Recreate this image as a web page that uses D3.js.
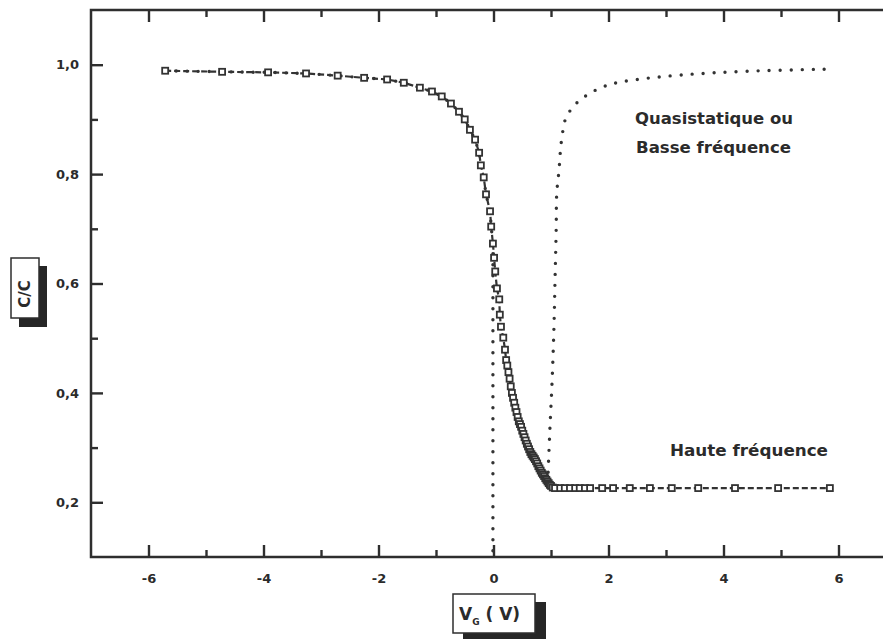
<!DOCTYPE html>
<html><head><meta charset="utf-8">
<script src="https://cdn.jsdelivr.net/npm/d3@7"></script>
<style>
body{margin:0;background:#fff;}
svg{display:block;}
text{font-family:"DejaVu Sans",sans-serif;font-weight:bold;fill:#2b2b2b;}
</style></head>
<body><svg id="c" width="883" height="639"></svg>
<script>
// ---- data ----
const xTicks = [-6,-4,-2,0,2,4,6];
const xMinorTicks = [-5,-3,-1,1,3,5];
const yTicks = [0.2,0.4,0.6,0.8,1.0];
const yMinorTicks = [0.3,0.5,0.7,0.9];
const yTickLabels = ["0,2","0,4","0,6","0,8","1,0"];

// High-frequency curve (squares, dashed)
const hfV = [-5.71,-4.72,-3.92,-3.26,-2.71,-2.25,-1.85,-1.56,-1.28,-1.07,-0.90,-0.74,-0.60,-0.50,-0.41,-0.32,-0.25,-0.22,-0.17,-0.13,-0.06,-0.04,-0.01,0.01,0.03,0.06,0.10,0.11,0.13,0.17,0.20,0.22,0.24,0.26,0.28,0.30,0.32,0.34,0.36,0.38,0.40,0.42,0.44,0.46,0.48,0.50,0.52,0.54,0.56,0.58,0.60,0.62,0.64,0.66,0.68,0.70,0.72,0.74,0.76,0.78,0.80,0.82,0.84,0.86,0.88,0.90,0.92,0.94,0.96,0.98,1.00,1.03,1.07,1.16,1.24,1.33,1.42,1.50,1.59,1.68,1.89,2.08,2.37,2.72,3.10,3.56,4.20,4.95,5.85];
const hfC = [0.989,0.987,0.986,0.984,0.980,0.976,0.973,0.967,0.958,0.951,0.942,0.929,0.914,0.900,0.881,0.863,0.839,0.816,0.794,0.763,0.732,0.704,0.673,0.647,0.622,0.591,0.571,0.543,0.521,0.501,0.479,0.460,0.450,0.438,0.426,0.412,0.400,0.391,0.382,0.373,0.365,0.356,0.348,0.343,0.338,0.331,0.325,0.319,0.313,0.307,0.302,0.297,0.292,0.288,0.285,0.282,0.279,0.275,0.271,0.266,0.262,0.258,0.254,0.251,0.248,0.244,0.241,0.238,0.235,0.232,0.230,0.227,0.226,0.226,0.226,0.226,0.226,0.226,0.226,0.226,0.226,0.226,0.226,0.226,0.226,0.226,0.226,0.226,0.226];

// Quasistatic / low-frequency curve (dotted), two branches
const lfLeftV = [-5.71,-4.72,-3.92,-3.26,-2.71,-2.25,-1.85,-1.56,-1.28,-1.07,-0.90,-0.74,-0.60,-0.50,-0.41,-0.32,-0.25,-0.17,-0.13,-0.06,-0.04,-0.01,-0.01];
const lfLeftC = [0.989,0.987,0.986,0.984,0.980,0.976,0.973,0.967,0.958,0.951,0.942,0.929,0.914,0.900,0.881,0.863,0.839,0.794,0.763,0.732,0.704,0.673,0.0];
const lfRightV = [0.95,0.98,1.02,1.05,1.07,1.09,1.10,1.14,1.17,1.21,1.26,1.37,1.50,1.68,1.85,2.06,2.43,3.24,4.41,5.85];
const lfRightC = [0.255,0.332,0.424,0.515,0.606,0.698,0.765,0.808,0.850,0.881,0.903,0.921,0.935,0.948,0.957,0.965,0.972,0.981,0.988,0.992];

// ---- layout ----
const svg = d3.select("#c");
const L = 91, R = 896, T = 10, B = 557;
const x = d3.scaleLinear().domain([-7,7]).range([L,R]);
const y = d3.scaleLinear().domain([0.1,1.1]).range([B,T]);
const ink = "#2e2e2e";

svg.append("defs").append("clipPath").attr("id","clip")
  .append("rect").attr("x",L).attr("y",T).attr("width",R-L).attr("height",B-T);

function styleAxis(g){
  g.select(".domain").remove();
  g.selectAll(".tick line").attr("stroke",ink).attr("stroke-width",2.4);
}
// bottom
svg.append("g").attr("transform",`translate(0,${B})`)
  .call(d3.axisTop(x).tickValues(xMinorTicks).tickSize(7).tickFormat(""))
  .call(styleAxis);
const xb = svg.append("g").attr("transform",`translate(0,${B})`)
  .call(d3.axisTop(x).tickValues(xTicks).tickSize(12).tickFormat(d=>d));
xb.call(styleAxis);
xb.selectAll(".tick text").attr("y",26).attr("dy",0).style("font-size","13px").style("font-family","DejaVu Sans").attr("fill","#2b2b2b")
  .text(d=> d<0 ? "-"+Math.abs(d) : d);
// top
svg.append("g").attr("transform",`translate(0,${T})`)
  .call(d3.axisBottom(x).tickValues(xMinorTicks).tickSize(7).tickFormat(""))
  .call(styleAxis);
svg.append("g").attr("transform",`translate(0,${T})`)
  .call(d3.axisBottom(x).tickValues(xTicks).tickSize(12).tickFormat(""))
  .call(styleAxis);
// left
svg.append("g").attr("transform",`translate(${L},0)`)
  .call(d3.axisRight(y).tickValues(yMinorTicks).tickSize(7).tickFormat(""))
  .call(styleAxis);
const yl = svg.append("g").attr("transform",`translate(${L},0)`)
  .call(d3.axisRight(y).tickValues(yTicks).tickSize(12).tickFormat((d,i)=>yTickLabels[i]));
yl.call(styleAxis);
yl.selectAll(".tick text").attr("x",-12).attr("text-anchor","end").style("font-size","13px").style("font-family","DejaVu Sans").attr("fill","#2b2b2b");
// right
svg.append("g").attr("transform",`translate(${R},0)`)
  .call(d3.axisLeft(y).tickValues(yMinorTicks).tickSize(7).tickFormat(""))
  .call(styleAxis);
svg.append("g").attr("transform",`translate(${R},0)`)
  .call(d3.axisLeft(y).tickValues(yTicks).tickSize(12).tickFormat(""))
  .call(styleAxis);

// frame
svg.append("rect").attr("x",L).attr("y",T).attr("width",R-L).attr("height",B-T)
  .attr("fill","none").attr("stroke",ink).attr("stroke-width",2.5);

const plot = svg.append("g").attr("clip-path","url(#clip)");
const line = d3.line().x(d=>x(d[0])).y(d=>y(d[1]));

// LF dotted
const lfL = lfLeftV.map((v,i)=>[v,lfLeftC[i]]);
const lfR = lfRightV.map((v,i)=>[v,lfRightC[i]]);
[lfL, lfR].forEach((pts,k)=>{
  plot.append("path").datum(pts)
    .attr("d", k===1 ? d3.line().x(d=>x(d[0])).y(d=>y(d[1])).curve(d3.curveCatmullRom)(pts) : line(pts))
    .attr("fill","none").attr("stroke","#333").attr("stroke-width",3.4)
    .attr("stroke-linecap","round").attr("stroke-dasharray","0,11");
});

// HF dashed line + squares
const hf = hfV.map((v,i)=>[v,hfC[i]]);
plot.append("path").datum(hf).attr("d",line)
  .attr("fill","none").attr("stroke","#333").attr("stroke-width",2.2)
  .attr("stroke-dasharray","6,3");
plot.selectAll("rect.m").data(hf).join("rect").attr("class","m")
  .attr("x",d=>x(d[0])-3).attr("y",d=>y(d[1])-3).attr("width",6).attr("height",6)
  .attr("fill","#fff").attr("stroke","#333").attr("stroke-width",1.8);

// annotations
svg.append("text").attr("x",635).attr("y",124).attr("textLength",158).attr("lengthAdjust","spacingAndGlyphs")
  .style("font-size","16px").text("Quasistatique ou");
svg.append("text").attr("x",636).attr("y",153).attr("textLength",155).attr("lengthAdjust","spacingAndGlyphs")
  .style("font-size","16px").text("Basse fréquence");
svg.append("text").attr("x",670).attr("y",456).attr("textLength",158).attr("lengthAdjust","spacingAndGlyphs")
  .style("font-size","16px").text("Haute fréquence");

// y label box
svg.append("rect").attr("x",19).attr("y",266).attr("width",28).attr("height",61).attr("fill","#262626");
svg.append("rect").attr("x",11).attr("y",258).attr("width",28).attr("height",60).attr("fill","#fff").attr("stroke",ink).attr("stroke-width",1.5);
svg.append("text").attr("transform","translate(30,294) rotate(-90)").attr("text-anchor","middle")
  .style("font-size","15px").text("C/C");

// x label box
svg.append("rect").attr("x",463).attr("y",602).attr("width",83).attr("height",40).attr("fill","#262626");
svg.append("rect").attr("x",453).attr("y",594).attr("width",82).attr("height",39).attr("fill","#fff").attr("stroke",ink).attr("stroke-width",1.5);
const xl = svg.append("text").attr("x",459).attr("y",620).style("font-size","17px");
xl.append("tspan").text("V");
xl.append("tspan").attr("dy",5).style("font-size","9px").text("G");
xl.append("tspan").attr("dy",-5).text(" ( V)");
</script></body></html>
